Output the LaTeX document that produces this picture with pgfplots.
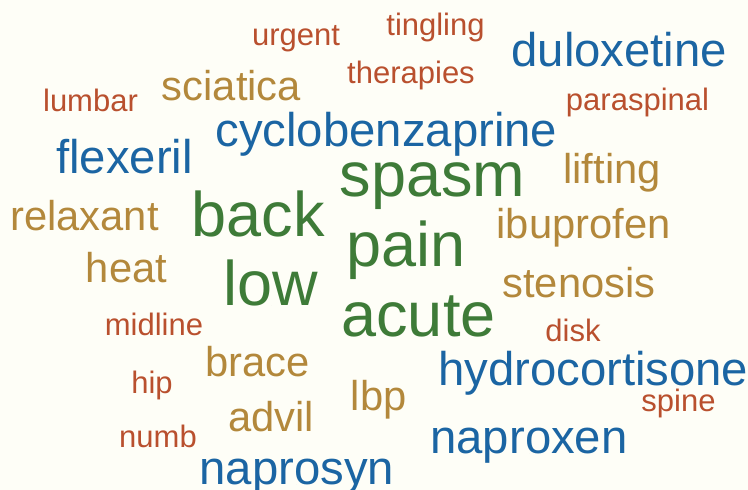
\documentclass[border=0pt]{standalone}
\usepackage{fontspec}
\setmainfont{Liberation Sans}
\usepackage{pgfplots}
\usepackage{pgfplotstable}
\pgfplotsset{compat=1.18}
\definecolor{cgreen}{HTML}{3E7B38}
\definecolor{cblue}{HTML}{1B65A3}
\definecolor{cgold}{HTML}{B3883B}
\definecolor{cred}{HTML}{B9502E}
\definecolor{bgc}{HTML}{FEFEF7}
\pgfplotstableread{
x y word
296 45.7 urgent
411 83 therapies
435.5 35 tingling
90.5 111.7 lumbar
637.5 110 paraspinal
154 335.7 midline
152 393 hip
158 447 numb
573 341 disk
678.5 411.7 spine
}\smallwords
\pgfplotstableread{
x y word
231.5 100 sciatica
84.5 230 relaxant
612 183 lifting
583.5 238 ibuprofen
126.5 282 heat
257.5 376.7 brace
271 431.7 advil
378.7 410 lbp
579 297.7 stenosis
}\mediumwords
\pgfplotstableread{
x y word
124.5 173 flexeril
386.4 146.7 cyclobenzaprine
619.3 66.7 duloxetine
593.2 385 hydrocortisone
529 453.3 naproxen
296.8 484.6 naprosyn
}\largewords
\pgfplotstableread{
x y word
258 236 back
432.5 196.7 spasm
406 266.7 pain
271 305 low
418.5 336.7 acute
}\hugewords
\pgfplotsset{
  wordstyle/.style n args={2}{only marks, mark=*, mark size=0pt,
    mark options={draw=none,fill=none},
    point meta=explicit symbolic, nodes near coords,
    every node near coord/.append style={anchor=base, inner sep=0pt,
      text=#1, font=\fontsize{#2bp}{#2bp}\selectfont}},
}
\begin{document}
\begin{tikzpicture}
\path[use as bounding box] (0,0) rectangle (748bp,490bp);
\clip (0,0) rectangle (748bp,490bp);
\fill[bgc] (0,0) rectangle (748bp,490bp);
\begin{axis}[at={(0,0)}, anchor=south west, scale only axis,
  width=748bp, height=490bp, xmin=0, xmax=748, ymin=0, ymax=490,
  y dir=reverse, hide axis, clip=false]
\addplot[wordstyle={cred}{31}] table[x=x,y=y,meta=word] {\smallwords};
\addplot[wordstyle={cgold}{41.7}] table[x=x,y=y,meta=word] {\mediumwords};
\addplot[wordstyle={cblue}{47.3}] table[x=x,y=y,meta=word] {\largewords};
\addplot[wordstyle={cgreen}{63}] table[x=x,y=y,meta=word] {\hugewords};
\end{axis}
\end{tikzpicture}
\end{document}
